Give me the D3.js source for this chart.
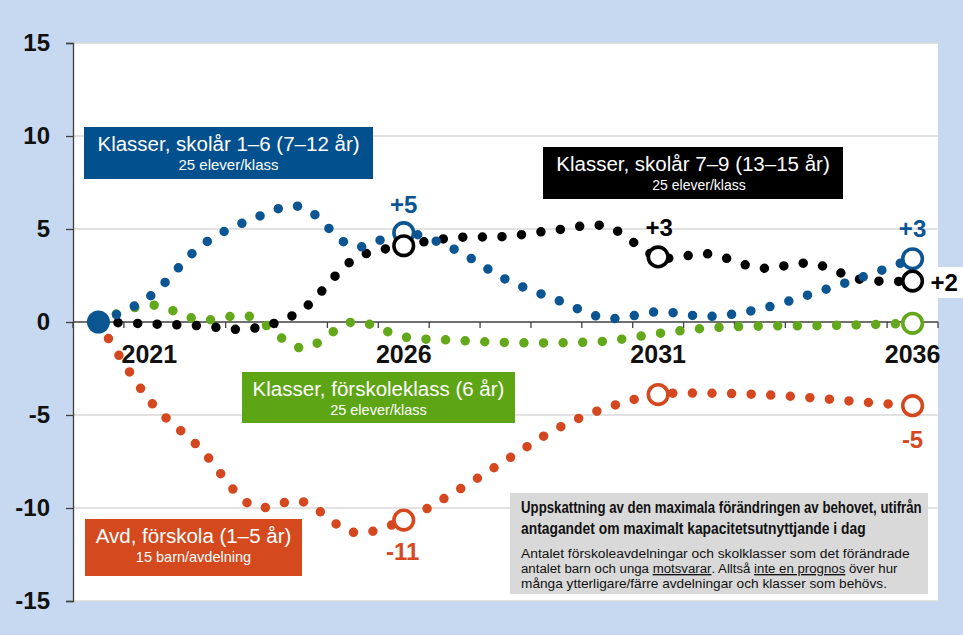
<!DOCTYPE html>
<html>
<head>
<meta charset="utf-8">
<script src="https://cdn.jsdelivr.net/npm/d3@7"></script>
<style>
  body { margin: 0; background: #c6d9f0; }
  svg { display: block; font-family: "Liberation Sans", Arial, sans-serif; }
</style>
</head>
<body>
<div id="chart"></div>
<script>
// chart size
var width = 963;
var height = 635;

// categories (x axis) and shown year labels
var years = [2020, 2021, 2022, 2023, 2024, 2025, 2026, 2027, 2028, 2029, 2030, 2031, 2032, 2033, 2034, 2035, 2036];
var yearLabels = [2021, 2026, 2031, 2036];
var yTicks = [-15, -10, -5, 0, 5, 10, 15];

// series values, change vs 2020
var forskola = [0, -4.2, -6.8, -9.85, -9.65, -11.3, -10.65, -9.15, -7.45, -5.75, -4.6, -3.9, -3.83, -3.9, -4.07, -4.3, -4.5];
var fklass   = [0, 0.92, 0.12, 0.28, -1.4, 0.0, -0.8, -0.98, -1.1, -1.12, -1.02, -0.62, -0.32, -0.22, -0.2, -0.15, -0.07];
var skolar16 = [0, 1.35, 4.06, 5.5, 6.18, 4.06, 4.8, 3.9, 2.3, 1.2, 0.2, 0.55, 0.3, 0.7, 1.5, 2.4, 3.4];
var skolar79 = [0, -0.1, -0.2, -0.36, 0.65, 3.33, 4.1, 4.53, 4.6, 4.95, 5.13, 3.5, 3.66, 2.9, 3.15, 2.28, 2.2];

// highlighted points (open circles) and their labels
var markYears16 = [2026, 2036];
var markLabels16 = ["+5", "+3"];
var markYears79 = [2026, 2031, 2036];
var markLabels79 = ["", "+3", "+2"];
var markYearsFsk = [2026, 2031, 2036];
var markLabelsFsk = ["-11", "", "-5"];
var markYearsFkl = [2036];

var colBlue = "#0a5592", colBlack = "#000000", colGreen = "#62a81a", colRed = "#d5481f";

var svg = d3.select("#chart").append("svg")
  .attr("width", width)
  .attr("height", height);

svg.append("rect").attr("width", width).attr("height", height).attr("fill", "#c6d9f0");

var x = d3.scaleBand().domain(years).range([73, 938]);
var xc = function(yr) { return x(yr) + x.bandwidth() / 2; };
var y = d3.scaleLinear().domain([-15, 15]).range([601, 43]);

// white plot area
svg.append("rect")
  .attr("x", x.range()[0]).attr("y", y(15))
  .attr("width", x.range()[1] - x.range()[0]).attr("height", y(-15) - y(15))
  .attr("fill", "#fff");

// gridlines
svg.selectAll(".grid").data(yTicks.filter(function(d){ return d != 0; }))
  .enter().append("line")
  .attr("x1", x.range()[0]).attr("x2", x.range()[1])
  .attr("y1", function(d){ return y(d); }).attr("y2", function(d){ return y(d); })
  .attr("stroke", "#d9d9d9").attr("stroke-width", 1.5);

// y axis
var yAxis = svg.append("g")
  .attr("transform", "translate(" + x.range()[0] + ",0)")
  .call(d3.axisLeft(y).tickValues(yTicks).tickSize(7).tickPadding(16).tickFormat(d3.format("d")));
yAxis.select(".domain").attr("stroke", "#404040").attr("stroke-width", 1.3);
yAxis.selectAll(".tick line").attr("stroke", "#404040").attr("stroke-width", 1.3);
yAxis.selectAll(".tick text")
  .attr("font-family", "Liberation Sans, Arial, sans-serif")
  .attr("font-size", 24).attr("font-weight", "bold").attr("fill", "#111")
  .text(function(d){ return d < 0 ? "-" + Math.abs(d) : d; });

// x axis line at zero with ticks between categories
var xAxis = svg.append("g");
xAxis.append("line")
  .attr("x1", x.range()[0]).attr("x2", x.range()[1])
  .attr("y1", y(0)).attr("y2", y(0))
  .attr("stroke", "#404040").attr("stroke-width", 1.3);
xAxis.selectAll(".xt").data(years.concat(["end"]))
  .enter().append("line")
  .attr("x1", function(d){ return d == "end" ? x.range()[1] : x(d); })
  .attr("x2", function(d){ return d == "end" ? x.range()[1] : x(d); })
  .attr("y1", y(0)).attr("y2", y(0) + 6)
  .attr("stroke", "#404040").attr("stroke-width", 1.3);
xAxis.selectAll(".xl").data(yearLabels)
  .enter().append("text")
  .attr("x", function(d){ return xc(d); })
  .attr("y", y(0) + 41)
  .attr("text-anchor", "middle")
  .attr("font-size", 25).attr("font-weight", "bold").attr("fill", "#111")
  .text(function(d){ return d; });

// dotted smoothed lines (Excel round-dot style)
var line = d3.line()
  .x(function(d, i){ return xc(years[i]); })
  .y(function(d){ return y(d); })
  .curve(d3.curveCardinal.tension(0));

var series = [
  {vals: forskola, col: colRed},
  {vals: fklass, col: colGreen},
  {vals: skolar79, col: colBlack},
  {vals: skolar16, col: colBlue}
];
svg.selectAll(".ser").data(series)
  .enter().append("path")
  .attr("d", function(d){ return line(d.vals); })
  .attr("fill", "none")
  .attr("stroke", function(d){ return d.col; })
  .attr("stroke-width", 9.5)
  .attr("stroke-linecap", "round")
  .attr("stroke-dasharray", "0 19.6");

// open circle markers
function markers(yrs, vals, col) {
  svg.selectAll(null).data(yrs)
    .enter().append("circle")
    .attr("cx", function(d){ return xc(d); })
    .attr("cy", function(d){ return y(vals[years.indexOf(d)]); })
    .attr("r", 9.8)
    .attr("fill", "#fff")
    .attr("stroke", col)
    .attr("stroke-width", 3.6);
}
markers(markYears16, skolar16, colBlue);
markers(markYearsFsk, forskola, colRed);
markers(markYearsFkl, fklass, colGreen);
markers(markYears79, skolar79, colBlack);

// start point
svg.append("circle")
  .attr("cx", xc(years[0])).attr("cy", y(skolar16[0]))
  .attr("r", 11.5).attr("fill", colBlue);

// marker labels
function markLabel(yr, val, txt, col, dx, dy, anchor, bg) {
  var g = svg.append("g");
  var t = g.append("text")
    .attr("x", xc(yr) + dx).attr("y", y(val) + dy)
    .attr("text-anchor", anchor)
    .attr("font-size", 24).attr("font-weight", "bold").attr("fill", col)
    .text(txt);
  if (bg) {
    var b = t.node().getBBox();
    g.insert("rect", "text").attr("x", b.x - 4).attr("y", b.y - 2)
      .attr("width", b.width + 30).attr("height", b.height + 4).attr("fill", "#fff");
  }
}
markLabel(2026, skolar16[6], markLabels16[0], colBlue, 0, -20, "middle");
markLabel(2036, skolar16[16], markLabels16[1], colBlue, 0, -22, "middle");
markLabel(2031, skolar79[11], markLabels79[1], colBlack, 1, -21, "middle");
markLabel(2036, skolar79[16], markLabels79[2], colBlack, 18, 10, "start", true);
markLabel(2026, forskola[6], markLabelsFsk[0], colRed, -1, 40, "middle");
markLabel(2036, forskola[16], markLabelsFsk[2], colRed, 0, 42, "middle");

// series name boxes
function nameBox(bx, by, bw, bh, col, title, sub, subSize, dxSub) {
  svg.append("rect").attr("x", bx).attr("y", by).attr("width", bw).attr("height", bh).attr("fill", col);
  svg.append("text").attr("x", bx + bw / 2).attr("y", by + 24)
    .attr("text-anchor", "middle").attr("font-size", 20.5).attr("fill", "#fff").text(title);
  svg.append("text").attr("x", bx + bw / 2 + dxSub).attr("y", by + 43)
    .attr("text-anchor", "middle").attr("font-size", subSize).attr("fill", "#fff").text(sub);
}
nameBox(84, 127, 289, 52, "#02508d", "Klasser, skolår 1–6 (7–12 år)", "25 elever/klass", 15, 0);
nameBox(543, 147, 300, 52, "#000", "Klasser, skolår 7–9 (13–15 år)", "25 elever/klass", 14, 6);
nameBox(242, 372, 273, 51, "#5ea515", "Klasser, förskoleklass (6 år)", "25 elever/klass", 14.5, 0);
nameBox(85, 519, 217, 57, "#d44a1e", "Avd, förskola (1–5 år)", "15 barn/avdelning", 14.5, 0);

// explanation box (condensed text: squeeze each line horizontally to its width)
svg.append("rect").attr("x", 510).attr("y", 493).attr("width", 418).attr("height", 101).attr("fill", "#d9d9d9");
var note = [
  {t: "Uppskattning av den maximala förändringen av behovet, utifrån", y: 513, w: 401, b: true},
  {t: "antagandet om maximalt kapacitetsutnyttjande i dag", y: 534, w: 345, b: true},
  {t: "Antalet förskoleavdelningar och skolklasser som det förändrade", y: 558, w: 389, b: false},
  {t: null, y: 573, w: 376, b: false},
  {t: "många ytterligare/färre avdelningar och klasser som behövs.", y: 588, w: 366, b: false}
];
note.forEach(function(n) {
  var t = svg.append("text").attr("x", 0).attr("y", 0)
    .attr("font-size", n.b ? 16 : 13.5).attr("font-weight", n.b ? "bold" : "normal")
    .attr("fill", "#111");
  if (n.t) {
    t.text(n.t);
  } else {
    t.append("tspan").text("antalet barn och unga ");
    t.append("tspan").attr("text-decoration", "underline").text("motsvarar");
    t.append("tspan").text(". Alltså ");
    t.append("tspan").attr("text-decoration", "underline").text("inte en prognos");
    t.append("tspan").text(" över hur");
  }
  var natural = t.node().getComputedTextLength();
  t.attr("transform", "translate(521," + n.y + ") scale(" + (n.w / natural) + ",1)");
});
</script>
</body>
</html>
